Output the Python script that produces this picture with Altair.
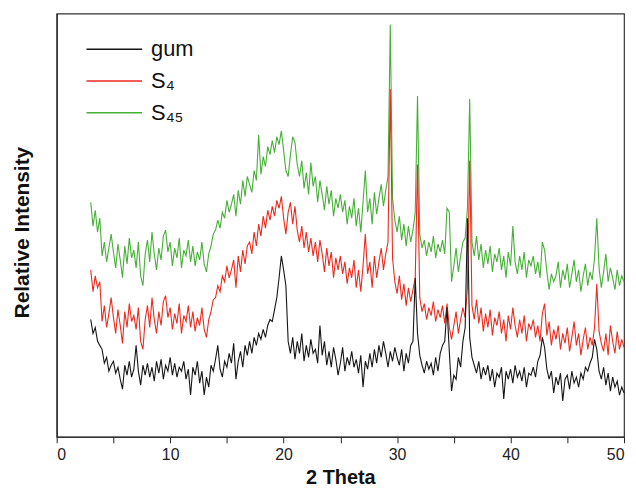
import altair as alt
import pandas as pd

# 2-theta grid (degrees) on which the traces were read, 3.0 .. 50.0 in 0.2 steps
theta_start = 3.0
theta_step = 0.2

samples = ["gum", "S₄", "S₄₅"]
colors = ["#151515", "#ee2a1e", "#45b035"]

# relative intensity (arbitrary units)
gum = [
    118, 104, 110, 96, 92,
    88, 74, 80, 66, 72,
    76, 64, 70, 58, 48,
    72, 62, 76, 60, 68,
    92, 66, 52, 72, 62,
    74, 60, 70, 56, 76,
    64, 78, 58, 72, 66,
    80, 62, 74, 60, 70,
    66, 76, 58, 68, 42,
    70, 62, 76, 54, 66,
    42, 60, 50, 72, 66,
    78, 92, 68, 60, 76,
    70, 84, 74, 94, 58,
    76, 86, 70, 92, 82,
    96, 84, 100, 92, 104,
    98, 108, 100, 112, 118,
    116, 128, 140, 160, 182,
    168, 152, 96, 84, 100,
    78, 96, 84, 104, 76,
    92, 80, 98, 84, 88,
    74, 112, 82, 96, 72,
    86, 70, 90, 78, 62,
    74, 90, 66, 80, 72,
    86, 70, 78, 64, 82,
    50, 76, 68, 84, 70,
    88, 74, 92, 80, 96,
    84, 70, 86, 76, 90,
    80, 72, 88, 66, 84,
    74, 92, 96, 160, 104,
    82, 72, 64, 76, 68,
    74, 62, 80, 66, 84,
    92, 96, 130, 86, 46,
    62, 58, 80, 70, 96,
    110, 220, 100, 80, 72,
    64, 76, 58, 70, 62,
    72, 56, 68, 50, 64,
    60, 70, 38, 66, 58,
    68, 54, 72, 60, 66,
    56, 70, 50, 64, 62,
    70, 60, 76, 82, 100,
    90, 68, 58, 66, 44,
    60, 52, 64, 36, 58,
    62, 48, 66, 54, 60,
    50, 64, 58, 70, 66,
    74, 80, 98, 88, 66,
    58, 70, 52, 64, 46,
    60, 50, 56, 42, 50,
    44,
]

s4 = [
    168, 146, 162, 150, 156,
    116, 132, 110, 124, 140,
    120, 104, 128, 112, 94,
    126, 110, 134, 116, 122,
    108, 130, 96, 88, 118,
    132, 110, 140, 118, 104,
    126, 112, 136, 142, 120,
    130, 108, 124, 114, 134,
    104, 122, 116, 132, 110,
    126, 106, 120, 112, 130,
    108, 100, 118, 126, 138,
    140, 152, 146, 162, 156,
    172, 160, 168, 178, 150,
    182, 166, 188, 174, 192,
    196, 184, 206, 192, 214,
    202, 222, 210, 228, 218,
    232, 222, 238, 230, 242,
    220, 204, 226, 236, 214,
    232, 208, 196, 212, 190,
    206, 186, 200, 182, 196,
    176, 198, 184, 166, 190,
    172, 186, 160, 180, 168,
    182, 164, 176, 154, 170,
    160, 178, 150, 168, 146,
    172, 204, 164, 176, 150,
    182, 160, 176, 190, 168,
    184, 196, 350, 180, 156,
    144, 162, 138, 154, 132,
    150, 136, 148, 160, 274,
    140, 126, 134, 118, 130,
    122, 136, 116, 128, 120,
    132, 114, 134, 110, 98,
    112, 126, 104, 118, 130,
    120, 150, 278, 132, 118,
    138, 114, 130, 106, 124,
    110, 128, 102, 120, 112,
    126, 104, 118, 96, 122,
    108, 130, 112, 100, 118,
    104, 122, 96, 114, 108,
    118, 100, 112, 96, 124,
    134, 102, 116, 92, 108,
    98, 112, 88, 104, 94,
    110, 86, 100, 116, 92,
    104, 82, 98, 110, 88,
    100, 92, 110, 154, 106,
    94, 86, 104, 82, 112,
    96, 84, 106, 88, 98,
    90,
]

s45 = [
    236, 212, 228, 206, 220,
    182, 196, 176, 190, 204,
    186, 170, 194, 178, 160,
    192, 174, 200, 180, 188,
    170, 196, 162, 152, 184,
    198, 176, 206, 184, 168,
    190, 178, 202, 208, 186,
    196, 172, 190, 180, 200,
    170, 188, 182, 198, 176,
    192, 172, 186, 178, 196,
    174, 166, 184, 192, 204,
    208, 218, 210, 226, 220,
    238, 226, 234, 244, 222,
    248, 234, 258, 242, 262,
    254, 246, 268, 258, 304,
    264, 282, 272, 292, 284,
    298, 286, 302, 294, 308,
    288, 268, 262, 284, 302,
    296, 274, 262, 278, 250,
    266, 244, 276, 252, 262,
    236, 258, 244, 228, 252,
    234, 248, 222, 240, 230,
    244, 226, 238, 214, 232,
    220, 240, 212, 230, 206,
    236, 268, 226, 240, 214,
    246, 224, 240, 254, 232,
    248, 262, 415, 240, 218,
    206, 222, 198, 214, 192,
    212, 196, 208, 226, 343,
    204, 190, 198, 182, 196,
    186, 202, 180, 194, 186,
    198, 184, 230, 226, 156,
    172, 190, 166, 182, 196,
    200, 230, 340, 196, 182,
    202, 178, 194, 170, 188,
    174, 192, 166, 184, 176,
    190, 168, 182, 160, 186,
    172, 212, 176, 164, 182,
    168, 186, 160, 178, 172,
    182, 164, 176, 160, 196,
    188, 166, 148, 164, 156,
    162, 176, 150, 168, 158,
    174, 150, 164, 178, 156,
    168, 146, 162, 174, 152,
    166, 158, 180, 220, 170,
    150, 166, 184, 156, 170,
    160, 148, 168, 152, 162,
    156,
]

x_ticks = [0, 5, 10, 15, 20, 25, 30, 35, 40, 45, 50]

rows = []
for name, series in zip(samples, [gum, s4, s45]):
    for i, v in enumerate(series):
        rows.append({"two_theta": round(theta_start + theta_step * i, 1),
                     "intensity": v, "sample": name})
df = pd.DataFrame(rows)

FONT = "Liberation Sans, Arial, Helvetica, sans-serif"

x_enc = alt.X(
    "two_theta:Q",
    scale=alt.Scale(domain=[0, 50], nice=False, zero=False),
    axis=alt.Axis(
        title="2 Theta", values=x_ticks,
        labelExpr="datum.value % 10 == 0 ? datum.label : ''",
        grid=False, tickSize=6, tickColor="#222", domainColor="#222",
        labelFontSize=16, labelFont=FONT, labelColor="#222", labelPadding=4,
        titleFontSize=20, titleFont=FONT, titleFontWeight="bold",
        titleColor="#111", titlePadding=5,
    ),
)
y_enc = alt.Y(
    "intensity:Q",
    scale=alt.Scale(domain=[0, 426], nice=False, zero=False),
    axis=alt.Axis(
        title="Relative Intensity", labels=False, ticks=False, grid=False,
        domainColor="#222", titleFontSize=21, titleFont=FONT,
        titleFontWeight="bold", titleColor="#111", titlePadding=24, titleY=220,
    ),
)
color_enc = alt.Color(
    "sample:N",
    scale=alt.Scale(domain=samples, range=colors),
    legend=alt.Legend(
        title=None, orient="none", legendX=43, legendY=21,
        symbolType="M-2,0H2", symbolSize=784, symbolStrokeWidth=1.5,
        labelFontSize=22, labelFont=FONT, labelColor="#111", labelOffset=22,
        padding=0, rowPadding=6,
    ),
)

layers = []
for name in ["S₄₅", "S₄", "gum"]:
    layers.append(
        alt.Chart(df)
        .transform_filter(alt.datum.sample == name)
        .mark_line(strokeWidth=1.1)
        .encode(x=x_enc, y=y_enc, color=color_enc)
    )

chart = (
    alt.layer(*layers)
    .properties(
        width=571, height=426,
        autosize=alt.AutoSizeParams(type="none"),
        padding={"left": 49, "top": 4, "right": 4, "bottom": 49},
    )
    .configure_view(stroke="#333", strokeWidth=1.2)
    .configure_axis(domainWidth=1.2)
)

chart.save("out.html", embed_options={"renderer": "svg", "actions": False})
